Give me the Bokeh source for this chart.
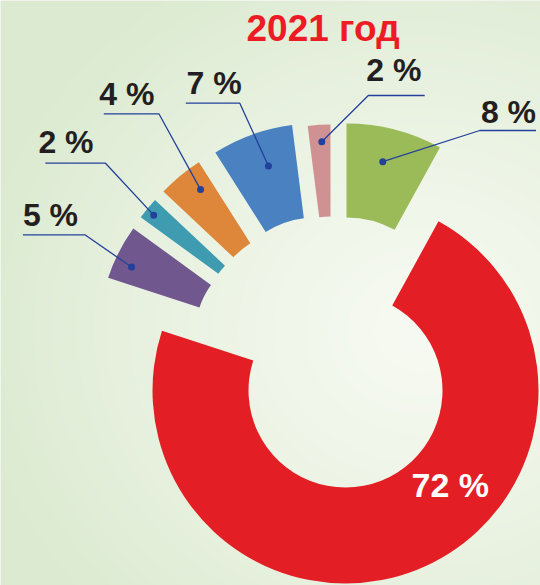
import numpy as np
from bokeh.plotting import figure
from bokeh.models import Range1d
from bokeh.core.properties import value
from bokeh.embed import file_html
from bokeh.resources import INLINE

# ---------------- data ----------------
title_text = "2021 год"
shares = [8, 72, 5, 2, 4, 7, 2]            # clockwise from 12 o'clock
labels = ["8 %", "72 %", "5 %", "2 %", "4 %", "7 %", "2 %"]
colors = ["#9BBB59", "#E31E24", "#70588F", "#3F9CB0", "#DE873A", "#4A81C0", "#D09192"]

# ---------------- layout (reference pixel coords, y down) ----------------
REF_W, REF_H = 540, 585
cx = [346, 345, 276, 285, 297, 315, 330]
cy = [317, 390, 332, 322, 317, 310, 306]
r_in = [100, 97, 81, 83, 88, 93, 90]
r_out = [194, 193, 177, 179, 184, 187, 182]
dot_frac = [0.455, None, 0.35, 0.44, 0.67, 0.57, 0.58]
dot_r = [160, None, 159, 170, 160.5, 152, 165]
lab_x = [480.4, 411, 22.4, 37.9, 98.8, 186, 365.7]
lab_base = [125, 499, 228, 155, 107, 96, 83]
lab_size = [32, 34, 32, 32, 32, 32, 32]
ul_y = [130, None, 234.3, 162.7, 113.3, 102.7, 95]
ul_x0 = [479.3, None, 22.4, 44.8, 103.3, 185.3, 367.8]
ul_x1 = [535.5, None, 84.4, 105, 158.4, 239.3, 424.2]
ul_side = ["R", None, "L", "L", "L", "L", "R"]
BASE_SHIFT = 0.43  # renderer places alphabetic baseline lower; compensate


def fy(y):
    return REF_H - y


p = figure(width=REF_W, height=REF_H, output_backend="svg", toolbar_location=None,
           x_range=Range1d(0, REF_W), y_range=Range1d(0, REF_H), min_border=0)
p.axis.visible = False
p.grid.visible = False
p.outline_line_color = None
p.background_fill_color = "#EEF5E8"
p.border_fill_color = "#EEF5E8"

# background gradient
W, H = REF_W, REF_H
xs_px = np.arange(W) + 0.5
ys_px = REF_H - np.arange(H) - 0.5
X, Y = np.meshgrid(xs_px, ys_px)
d = np.sqrt(((X - 420) / 1.0) ** 2 + ((Y - 330) / 0.9) ** 2)
t = np.clip(d / 470.0, 0, 1) ** 1.2
c_near = np.array([247, 250, 242], dtype=float)
c_far = np.array([219, 234, 208], dtype=float)
img = np.empty((H, W), dtype=np.uint32)
view = img.view(dtype=np.uint8).reshape((H, W, 4))
for k in range(3):
    view[:, :, k] = (c_near[k] + (c_far[k] - c_near[k]) * t).astype(np.uint8)
view[:, :, 3] = 255
p.image_rgba(image=[img], x=0, y=0, dw=W, dh=H)

# wedges
cum = np.concatenate([[0], np.cumsum(shares)])
start_deg = 90 - cum[:-1] * 3.6
end_deg = 90 - cum[1:] * 3.6
p.annular_wedge(x=cx, y=[fy(v) for v in cy], inner_radius=r_in, outer_radius=r_out,
                start_angle=np.radians(end_deg), end_angle=np.radians(start_deg),
                fill_color=colors, line_color=None)

# leader lines and dots
lx, ly, dxs, dys = [], [], [], []
for i in range(len(shares)):
    if dot_frac[i] is None:
        continue
    a = np.radians(start_deg[i] - dot_frac[i] * shares[i] * 3.6)
    dx = cx[i] + dot_r[i] * np.cos(a)
    dy = cy[i] - dot_r[i] * np.sin(a)
    dxs.append(dx)
    dys.append(fy(dy))
    if ul_side[i] == "L":
        pts = [(ul_x0[i], ul_y[i]), (ul_x1[i], ul_y[i]), (dx, dy)]
    else:
        pts = [(ul_x1[i], ul_y[i]), (ul_x0[i], ul_y[i]), (dx, dy)]
    lx.append([q[0] for q in pts])
    ly.append([fy(q[1]) for q in pts])
p.multi_line(xs=lx, ys=ly, line_color="#23409A", line_width=1.3)
p.scatter(x=dxs, y=dys, size=7, fill_color="#23409A", line_color=None)

# labels
font = value("Liberation Sans")
tcol = ["#231F20" if i != 1 else "#FFFFFF" for i in range(len(shares))]
p.text(x=lab_x, y=[fy(b - BASE_SHIFT * s) for b, s in zip(lab_base, lab_size)],
       text=labels, text_color=tcol,
       text_font=font, text_font_style="bold", text_font_size=[f"{s}px" for s in lab_size],
       text_baseline="alphabetic", text_align="left")

# title
p.text(x=[246], y=[fy(43.5 - BASE_SHIFT * 37)], text=[title_text], text_color="#ED1C24",
       text_font=font, text_font_style="bold", text_font_size="37px",
       text_baseline="alphabetic", text_align="left")

open("out.html", "w").write(file_html(p, INLINE))
